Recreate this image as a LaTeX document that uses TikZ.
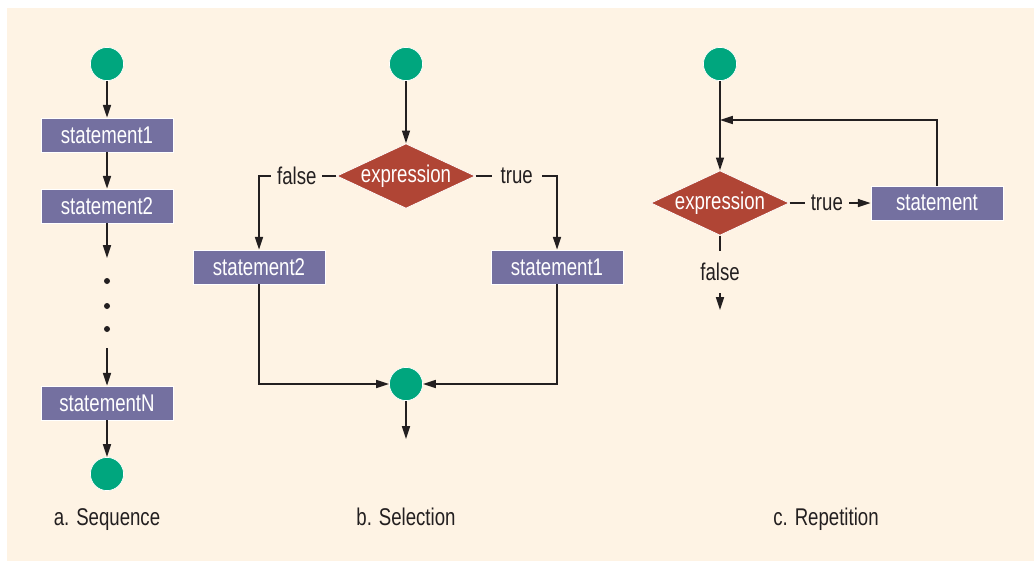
\documentclass[tikz,border=0pt]{standalone}
\usepackage{fontspec}
\setmainfont{Liberation Sans}[FakeStretch=0.77]
\usetikzlibrary{shapes.geometric,arrows.meta}
\definecolor{bgcream}{HTML}{FEF3E4}
\definecolor{nodegreen}{HTML}{00A67E}
\definecolor{stmtpurple}{HTML}{7470A0}
\definecolor{exprred}{HTML}{B04535}
\definecolor{inkdark}{HTML}{231F20}
\begin{document}
\begin{tikzpicture}[x=0.025cm, y=-0.025cm,
  font=\fontsize{17.2}{20}\selectfont,
  dot/.style={circle, fill=nodegreen, draw=white, line width=0.5pt, minimum size=0.83cm, inner sep=0pt},
  stmt/.style={rectangle, fill=stmtpurple, draw=white, line width=0.5pt, text=white, minimum width=3.3cm, minimum height=0.85cm, inner sep=0pt},
  expr/.style={diamond, aspect=2.14, fill=exprred, draw=white, line width=0.5pt, text=white, minimum width=3.375cm, minimum height=1.575cm, inner sep=0pt},
  flow/.style={draw=inkdark, line width=1.1pt, -{Triangle[length=0.32cm, width=0.2cm]}},
  lbl/.style={fill=bgcream, text=inkdark, inner xsep=0.15cm, inner ysep=2pt},
  caption/.style={text=inkdark, anchor=base}]
\useasboundingbox (0,0) rectangle (1034,560);
\fill[white] (-10,-10) rectangle (1050,580);
\fill[bgcream] (7,8) rectangle (1050,580);
% a. Sequence
\node (a0) at (107,64) [dot] {};
\node (a1) at (107,135) [stmt] {statement1};
\node (a2) at (107,206) [stmt] {statement2};
\node (aN) at (107,403) [stmt] {statementN};
\node (aE) at (107,474) [dot] {};
\coordinate (aGap) at (107,258);
\coordinate (aRes) at (107,348);
\draw[flow] (a0) -- (a1);
\draw[flow] (a1) -- (a2);
\draw[flow] (a2) -- (aGap);
\foreach \y in {281,306,329} \fill[inkdark] (107,\y) circle (0.075cm);
\draw[flow] (aRes) -- (aN);
\draw[flow] (aN) -- (aE);
\node (aCap) at (107,525) [caption] {a. Sequence};
% b. Selection
\node (b0) at (406,64) [dot] {};
\node (bIf) at (406,176) [expr] {expression};
\node (bF) at (259,267) [stmt] {statement2};
\node (bT) at (557,267) [stmt] {statement1};
\node (bM) at (406,384) [dot] {};
\coordinate (bOut) at (406,439);
\draw[flow] (b0) -- (bIf);
\draw[flow] (bIf.west) -| node[lbl, pos=0.256] {false} (bF.north);
\draw[flow] (bIf.east) -| node[lbl, pos=0.253, inner xsep=0.22cm] {true} (bT.north);
\draw[flow] (bF.south) |- (bM.west);
\draw[flow] (bT.south) |- (bM.east);
\draw[flow] (bM) -- (bOut);
\node (bCap) at (406,525) [caption] {b. Selection};
% c. Repetition
\node (c0) at (720,64) [dot] {};
\node (cIf) at (720,203) [expr] {expression};
\node (cDo) at (937,203) [stmt] {statement};
\coordinate (cBack) at (720,120);
\coordinate (cOut) at (720,310);
\draw[flow] (c0) -- (cIf);
\draw[flow] (cIf) -- node[lbl, pos=0.46] {true} (cDo);
\draw[flow] (cDo.north) |- (cBack);
\draw[flow] (cIf) -- node[lbl, pos=0.49, inner ysep=0.3cm] {false} (cOut);
\node (cCap) at (826,525) [caption] {c. Repetition};
\end{tikzpicture}
\end{document}
